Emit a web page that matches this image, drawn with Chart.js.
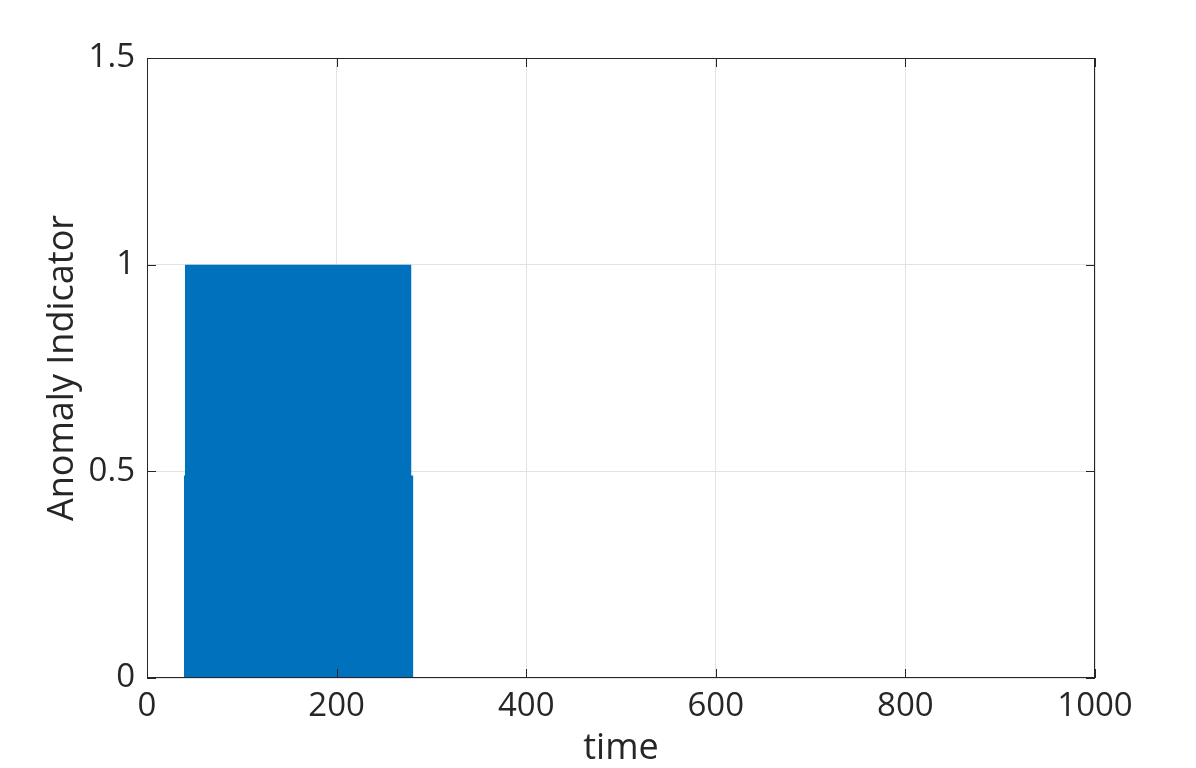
<!DOCTYPE html>
<html>
<head>
<meta charset="utf-8">
<script src="https://cdn.jsdelivr.net/npm/chart.js@4"></script>
<style>
  html, body { margin: 0; padding: 0; background: #fff; }
  #wrap { width: 1196px; height: 768px; }
</style>
</head>
<body>
<div id="wrap"><canvas id="chart" width="1196" height="768"></canvas></div>
<script>
// --- datos ---
const anomalyTimes = [40, 279];      // tramo con indicador = 1
const anomalyValues = [1, 1];
const lowerTimes = [39, 281];        // parte baja, algo más ancha
const lowerValues = [0.49, 0.49];
const xTicks = [0, 200, 400, 600, 800, 1000];
const yTicks = [0, 0.5, 1, 1.5];

const BLUE = "#0072BD";
const AXIS = "#262626";
const FONT = "'Open Sans', 'Noto Sans', sans-serif";

const toPoints = (xs, ys) => xs.map((x, i) => ({ x, y: ys[i] }));

// caja y marcas hacia dentro, estilo MATLAB
const boxPlugin = {
  id: "box",
  afterDraw(chart) {
    const { ctx, chartArea: a, scales } = chart;
    ctx.save();
    ctx.strokeStyle = AXIS;
    ctx.lineWidth = 1;
    ctx.strokeRect(a.left + 0.5, a.top + 0.5, a.right - a.left - 1, a.bottom - a.top - 1);
    ctx.beginPath();
    const len = 9;
    xTicks.forEach(v => {
      const px = Math.round(scales.x.getPixelForValue(v)) + 0.5;
      ctx.moveTo(px, a.bottom); ctx.lineTo(px, a.bottom - len);
      ctx.moveTo(px, a.top); ctx.lineTo(px, a.top + len);
    });
    yTicks.forEach(v => {
      const py = Math.round(scales.y.getPixelForValue(v)) + 0.5;
      ctx.moveTo(a.left, py); ctx.lineTo(a.left + len, py);
      ctx.moveTo(a.right, py); ctx.lineTo(a.right - len, py);
    });
    ctx.stroke();
    ctx.restore();
  },
};

new Chart(document.getElementById("chart"), {
  type: "line",
  data: {
    datasets: [
      {
        data: toPoints(lowerTimes, lowerValues),
        backgroundColor: BLUE,
        borderWidth: 0,
        pointRadius: 0,
        fill: "origin",
      },
      {
        data: toPoints(anomalyTimes, anomalyValues),
        backgroundColor: BLUE,
        borderWidth: 0,
        pointRadius: 0,
        fill: "origin",
      },
    ],
  },
  options: {
    responsive: false,
    animation: false,
    devicePixelRatio: 1,
    layout: { padding: { left: 41, top: 58, right: 101, bottom: 0 } },
    plugins: { legend: { display: false }, tooltip: { enabled: false } },
    scales: {
      x: {
        type: "linear",
        min: 0,
        max: 1000,
        afterBuildTicks: s => { s.ticks = xTicks.map(v => ({ value: v })); },
        afterFit: s => { s.height = 90; },
        ticks: { color: AXIS, font: { family: FONT, size: 33 }, padding: 9, maxRotation: 0, callback: v => String(v) },
        grid: { color: "#e3e3e3", drawTicks: false },
        border: { display: false },
        title: { display: true, text: "time", color: AXIS, font: { family: FONT, size: 36 }, padding: { top: 0, bottom: -2 } },
      },
      y: {
        min: 0,
        max: 1.5,
        afterBuildTicks: s => { s.ticks = yTicks.map(v => ({ value: v })); },
        afterFit: s => { s.width = 106; },
        ticks: { color: AXIS, font: { family: FONT, size: 33 }, padding: 12, callback: v => String(v) },
        grid: { color: "#e3e3e3", drawTicks: false },
        border: { display: false },
        title: { display: true, text: "Anomaly Indicator", color: AXIS, font: { family: FONT, size: 36 }, padding: { top: 0, bottom: 0 } },
      },
    },
  },
  plugins: [boxPlugin],
});
</script>
</body>
</html>
